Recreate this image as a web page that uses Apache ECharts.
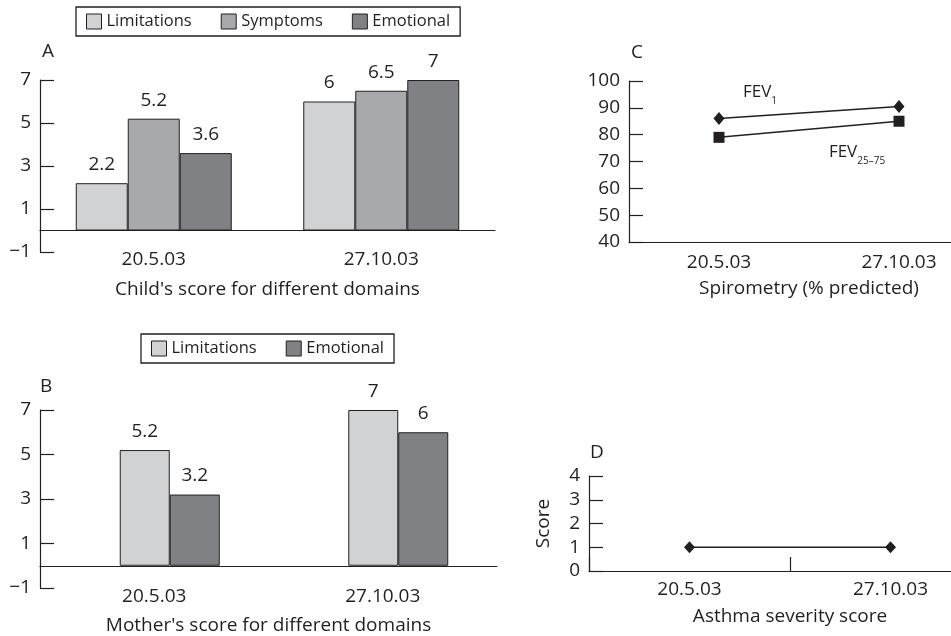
<!DOCTYPE html>
<html><head><meta charset="utf-8">
<script src="https://cdn.jsdelivr.net/npm/echarts@6/dist/echarts.min.js"></script>
<style>html,body{margin:0;padding:0;background:#fff}#c{width:951px;height:636px}</style>
</head><body><div id="c"></div>
<script>
const categories = ['20.5.03', '27.10.03'];
const childLimitations = [2.2, 6];
const childSymptoms = [5.2, 6.5];
const childEmotional = [3.6, 7];
const motherLimitations = [5.2, 7];
const motherEmotional = [3.2, 6];
const fev1 = [86, 90.5];
const fev2575 = [79, 85];
const severity = [1, 1];
const scoreTicks = [-1, 1, 3, 5, 7];

const INK = '#231f20';
const C_LIM = '#d1d2d4', C_SYM = '#a8a9ac', C_EMO = '#808184';
const FONT = 'Open Sans';
const FS = 19;

const chart = echarts.init(document.getElementById('c'), null, {renderer: 'canvas'});

function valueAxis(grid, min, max, interval, custom, extra) {
  const ax = {
    type: 'value', gridIndex: grid, min: min, max: max, interval: interval,
    splitLine: {show: false},
    axisLine: {show: true, lineStyle: {color: INK, width: 1.2}},
    axisTick: {show: true, inside: true, length: 14, lineStyle: {color: INK, width: 1.2}},
    axisLabel: {color: INK, fontSize: FS, fontFamily: FONT, margin: 9}
  };
  if (custom) {
    ax.axisTick.customValues = custom;
    ax.axisLabel.customValues = custom;
    ax.axisLabel.formatter = v => (v < 0 ? '\u2212' + Math.abs(v) : '' + v);
  }
  return Object.assign(ax, extra || {});
}
function catAxis(grid, name, labelMargin, nameGap, ticks) {
  return {
    type: 'category', gridIndex: grid, data: categories, boundaryGap: true,
    name: name, nameLocation: 'middle', nameGap: nameGap,
    nameTextStyle: {color: INK, fontSize: FS, fontFamily: FONT},
    axisLine: {show: true, onZero: true, lineStyle: {color: INK, width: 1.2}},
    axisTick: ticks ? {show: true, inside: true, length: 14, alignWithLabel: false, lineStyle: {color: INK, width: 1.2}} : {show: false},
    axisLabel: {color: INK, fontSize: FS, fontFamily: FONT, margin: labelMargin}
  };
}
const barLabel = {show: true, position: 'top', distance: 9, color: INK, fontSize: FS, fontFamily: FONT};
function bar(name, data, color, xi, yi, width) {
  return {
    type: 'bar', name: name, data: data, xAxisIndex: xi, yAxisIndex: yi,
    barWidth: width, barGap: '0%',
    itemStyle: {color: color, borderColor: INK, borderWidth: 1},
    label: barLabel
  };
}
const legendBase = {
  orient: 'horizontal', icon: 'rect', itemWidth: 15, itemHeight: 15, itemGap: 29,
  borderColor: INK, borderWidth: 1.3, padding: [6, 10, 6, 10],
  textStyle: {color: INK, fontSize: 16.5, fontFamily: FONT},
  itemStyle: {borderColor: INK, borderWidth: 1},
  selectedMode: false
};
const letter = (t, l, tp) => ({text: t, left: l, top: tp, padding: 0,
  textStyle: {color: INK, fontSize: FS, fontWeight: 'normal', fontFamily: FONT}});
const richFev = {
  a: {fontSize: 17, color: INK, fontFamily: FONT, verticalAlign: 'top', lineHeight: 22},
  s: {fontSize: 10, color: INK, fontFamily: FONT, verticalAlign: 'bottom', lineHeight: 10}
};

const option = {
  animation: false,
  backgroundColor: '#fff',
  title: [letter('A', 42, 42), letter('B', 40, 377), letter('C', 631, 43), letter('D', 590, 443)],
  legend: [
    Object.assign({}, legendBase, {left: 76, top: 7, data: ['Limitations', 'Symptoms', 'Emotional']}),
    Object.assign({}, legendBase, {left: 141, top: 334, data: ['Limitations', 'Emotional']})
  ],
  grid: [
    {left: 40, top: 80, width: 455, height: 172, outerBoundsMode: 'none', containLabel: false},
    {left: 40, top: 410, width: 457, height: 178, outerBoundsMode: 'none', containLabel: false},
    {left: 629, top: 81, width: 360, height: 161, outerBoundsMode: 'none', containLabel: false},
    {left: 589, top: 476, width: 402, height: 95, outerBoundsMode: 'none', containLabel: false}
  ],
  xAxis: [
    catAxis(0, "Child's score for different domains", -2, 28, false),
    catAxis(1, "Mother's score for different domains", -1, 28, false),
    catAxis(2, 'Spirometry (% predicted)', 11, 37, false),
    catAxis(3, 'Asthma severity score', 9, 36, true)
  ],
  yAxis: [
    valueAxis(0, -1, 7, 1, scoreTicks),
    valueAxis(1, -1, 7, 1, scoreTicks),
    valueAxis(2, 40, 100, 10, null),
    valueAxis(3, 0, 4, 1, null, {name: 'Score', nameLocation: 'middle', nameGap: 36, nameRotate: 90,
      nameTextStyle: {color: INK, fontSize: FS, fontFamily: FONT}})
  ],
  series: [
    bar('Limitations', childLimitations, C_LIM, 0, 0, 52),
    bar('Symptoms', childSymptoms, C_SYM, 0, 0, 52),
    bar('Emotional', childEmotional, C_EMO, 0, 0, 52),
    {type: 'bar', name: 'spacer', data: ['-', '-'], xAxisIndex: 1, yAxisIndex: 1, barWidth: 31, barGap: '0%', silent: true},
    bar('Limitations', motherLimitations, C_LIM, 1, 1, 50),
    bar('Emotional', motherEmotional, C_EMO, 1, 1, 50),
    {
      type: 'line', name: 'FEV1', xAxisIndex: 2, yAxisIndex: 2,
      data: fev1.map((v, i) => i === 0 ? {value: v, label: {show: true, position: 'top', offset: [41, -1],
        formatter: '{a|FEV}{s|1}', rich: richFev}} : v),
      symbol: 'diamond', symbolSize: [11, 13], showSymbol: true,
      lineStyle: {color: INK, width: 1.5}, itemStyle: {color: INK}
    },
    {
      type: 'line', name: 'FEV25-75', xAxisIndex: 2, yAxisIndex: 2,
      data: fev2575.map((v, i) => i === 1 ? {value: v, label: {show: true, position: 'bottom', offset: [-42, 12],
        formatter: '{a|FEV}{s|25\u201375}', rich: richFev}} : v),
      symbol: 'rect', symbolSize: 11, showSymbol: true,
      lineStyle: {color: INK, width: 1.5}, itemStyle: {color: INK}
    },
    {
      type: 'line', name: 'Severity', xAxisIndex: 3, yAxisIndex: 3, data: severity,
      symbol: 'diamond', symbolSize: [11, 12], showSymbol: true,
      lineStyle: {color: INK, width: 1.5}, itemStyle: {color: INK}
    }
  ]
};
chart.setOption(option);
</script></body></html>
